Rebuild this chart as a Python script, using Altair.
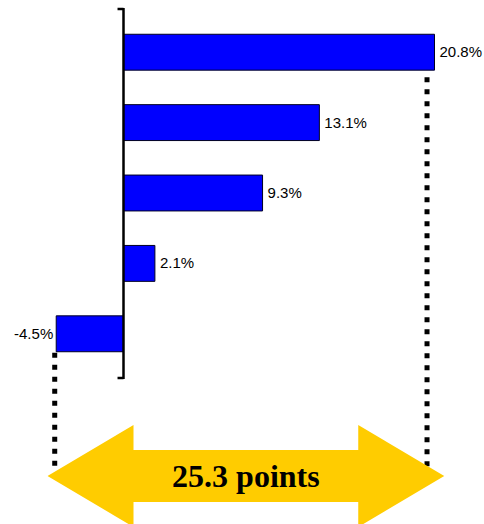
import altair as alt
import pandas as pd

# ---- data ----
categories = ["Item 1", "Item 2", "Item 3", "Item 4", "Item 5"]
values = [20.8, 13.1, 9.3, 2.1, -4.5]
guide_x = [20.3, -4.6]          # dotted guide positions (data units)

hi, lo = max(values), min(values)
spread = round(hi - lo, 1)

df = pd.DataFrame({"cat": categories, "v": values})
df["label"] = [f"{v:.1f}%" for v in values]
one = pd.DataFrame({"k": [0]})

# ---- scales ----
xscale = alt.Scale(domain=[0, hi], range=[123.5, 434.5], nice=False, zero=False)
yband = alt.Scale(domain=categories, range=[8, 378], paddingInner=0.49, paddingOuter=0.373)

Y = alt.Y("cat:N", scale=yband, axis=None)

bars = alt.Chart(df).mark_bar(color="#0000FF", stroke="#000022", strokeWidth=1).encode(
    x=alt.X("v:Q", scale=xscale, axis=None), x2=alt.datum(0), y=Y
)

axis_line = alt.Chart(one).mark_rule(color="black", strokeWidth=2.5).encode(
    x=alt.datum(0), y=alt.value(8), y2=alt.value(379)
)
tick_top = alt.Chart(one).mark_rule(color="black", strokeWidth=2.5).encode(
    x=alt.datum(-0.4), x2=alt.datum(0), y=alt.value(9)
)
tick_bot = alt.Chart(one).mark_rule(color="black", strokeWidth=2.5).encode(
    x=alt.datum(-0.4), x2=alt.datum(0), y=alt.value(378)
)

lab_pos = alt.Chart(df).transform_filter("datum.v >= 0").mark_text(
    align="left", baseline="middle", dx=5, font="Liberation Sans", fontSize=15, color="black"
).encode(x=alt.X("v:Q", scale=xscale), y=Y, text="label:N")

lab_neg = alt.Chart(df).transform_filter("datum.v < 0").mark_text(
    align="right", baseline="middle", dx=-3, font="Liberation Sans", fontSize=15, color="black"
).encode(x=alt.X("v:Q", scale=xscale), y=Y, text="label:N")

Yb = alt.Y("cat:N", scale=yband, axis=None, bandPosition=1)
guide_r = alt.Chart(df).transform_filter(f"datum.v == {hi}").mark_rule(
    color="black", strokeWidth=5, strokeDash=[5, 7], strokeDashOffset=5
).encode(x=alt.datum(guide_x[0]), y=Yb, y2=alt.value(470))
guide_l = alt.Chart(df).transform_filter(f"datum.v == {lo}").mark_rule(
    color="black", strokeWidth=5, strokeDash=[5, 7], strokeDashOffset=-1
).encode(x=alt.datum(guide_x[1]), y=Yb, y2=alt.value(470))

# ---- double arrow spanning the range ----
L = lo - 0.58
R = hi + 0.65
h = 5.75                       # head length in data units
tip, head, shaft = 476, 51, 26
YELLOW = "#FFCC00"

shaft_rect = alt.Chart(one).mark_rect(color=YELLOW).encode(
    x=alt.datum(L + h - 0.05), x2=alt.datum(R - h + 0.05),
    y=alt.value(tip - shaft), y2=alt.value(tip + shaft)
)
hl = round(h * (434.5 - 123.5) / hi / head, 3)   # head length relative to half height
left_head = alt.Chart(one).mark_point(
    shape=f"M0,-1 L0,1 L-{hl},0 Z", filled=True, fill=YELLOW, stroke=None, opacity=1,
    size=(2 * head) ** 2
).encode(x=alt.datum(L + h), y=alt.value(tip))
right_head = alt.Chart(one).mark_point(
    shape=f"M0,-1 L0,1 L{hl},0 Z", filled=True, fill=YELLOW, stroke=None, opacity=1,
    size=(2 * head) ** 2
).encode(x=alt.datum(R - h), y=alt.value(tip))

arrow_text = alt.Chart(one).mark_text(
    font="Liberation Serif", fontSize=32, fontWeight="bold", align="center",
    baseline="alphabetic", color="black"
).encode(x=alt.datum((L + R) / 2), y=alt.value(487), text=alt.value(f"{spread} points"))

chart = alt.layer(
    bars, axis_line, tick_top, tick_bot, lab_pos, lab_neg, guide_r, guide_l,
    shaft_rect, left_head, right_head, arrow_text
).properties(
    width=484, height=524, autosize=alt.AutoSizeParams(type="none"), padding=0
).configure_view(stroke=None)

chart.save("out.html", embed_options={"renderer": "svg", "actions": False})
